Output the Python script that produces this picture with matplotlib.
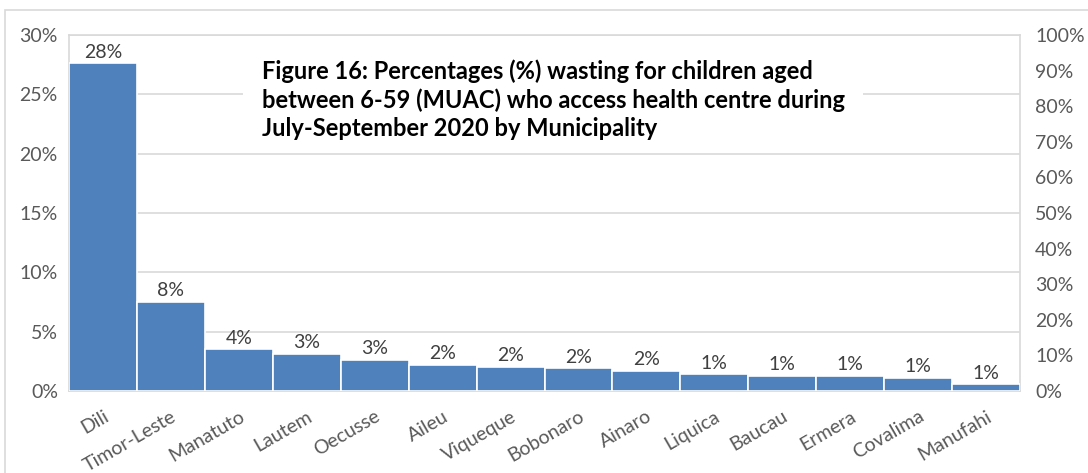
import matplotlib
matplotlib.use("Agg")
import matplotlib.pyplot as plt
from matplotlib.patches import Rectangle
from matplotlib.ticker import PercentFormatter, MultipleLocator

plt.rcParams['font.family'] = ['Lato', 'DejaVu Sans']

municipalities = ["Dili", "Timor-Leste", "Manatuto", "Lautem", "Oecusse", "Aileu",
                  "Viqueque", "Bobonaro", "Ainaro", "Liquica", "Baucau", "Ermera",
                  "Covalima", "Manufahi"]
wasting_pct = [27.6, 7.5, 3.5, 3.1, 2.6, 2.2, 2.0, 1.9, 1.7, 1.4, 1.3, 1.3, 1.1, 0.55]
title_lines = ["Figure 16: Percentages (%) wasting for children aged",
               "between 6-59 (MUAC) who access health centre during",
               "July-September 2020 by Municipality"]

W, H = 1088, 473
FS = 14
fig = plt.figure(figsize=(W / 100, H / 100), dpi=100)
fig.patch.set_facecolor("white")

# outer chart frame
fig.patches.append(Rectangle((5 / W, -0.05), 1.2, (H - 10) / H + 0.05,
                             transform=fig.transFigure, fill=False,
                             edgecolor="#d9d9d9", linewidth=1.2, zorder=0))

ax = fig.add_axes([69 / W, (H - 391) / H, (1020 - 69) / W, (391 - 35) / H])
x = range(len(municipalities))
ax.bar(x, wasting_pct, width=1.0, color="#4f81bd", edgecolor="white",
       linewidth=1.2, zorder=3)

ax.set_xlim(-0.5, len(municipalities) - 0.5)
ax.set_ylim(0, 30)
ax.yaxis.set_major_locator(MultipleLocator(5))
ax.yaxis.set_major_formatter(PercentFormatter(decimals=0))
ax.grid(axis="y", color="#d9d9d9", linewidth=1.2, zorder=0)
ax.set_axisbelow(True)
for s in ax.spines.values():
    s.set_color("#d9d9d9")
    s.set_linewidth(1.2)
ax.tick_params(axis="both", length=0, colors="#595959", labelsize=FS)
ax.tick_params(axis="y", pad=8)

ax.set_xticks(list(x))
ax.set_xticklabels(municipalities, rotation=30, ha="right", va="top",
                   rotation_mode="anchor", color="#595959", fontsize=FS)
ax.tick_params(axis="x", pad=12)

for i, v in enumerate(wasting_pct):
    ax.annotate(f"{v:.0f}%", (i, v), xytext=(0, 2), textcoords="offset points",
                ha="center", va="bottom", fontsize=FS, color="#404040", zorder=5)

ax2 = ax.twinx()
ax2.set_ylim(0, 1)
ax2.yaxis.set_major_locator(MultipleLocator(0.1))
ax2.yaxis.set_major_formatter(PercentFormatter(xmax=1, decimals=0))
ax2.tick_params(axis="y", length=0, colors="#595959", labelsize=FS, pad=11)
for s in ax2.spines.values():
    s.set_visible(False)

# title block with a white background over the gridlines
fig.patches.append(Rectangle((243 / W, (H - 148) / H), (863 - 243) / W, 95 / H,
                             transform=fig.transFigure, facecolor="white",
                             edgecolor="none", zorder=2))
for k, line in enumerate(title_lines):
    fig.text(262 / W, (H - 71 - 29 * k) / H, line, ha="left", va="center",
             fontsize=17, fontweight="bold", color="black", zorder=6)

fig.savefig("out.png", dpi=100)
